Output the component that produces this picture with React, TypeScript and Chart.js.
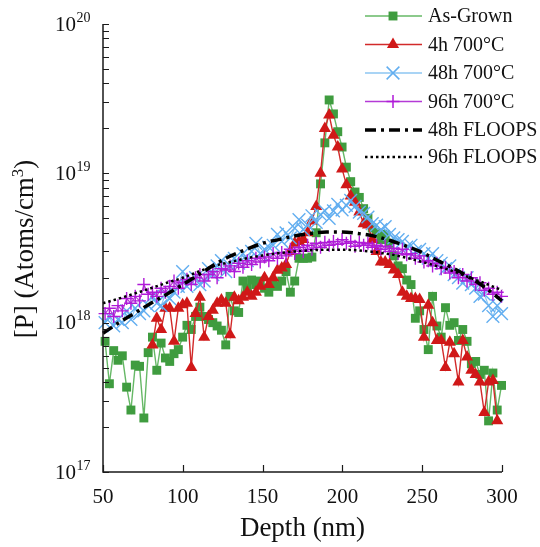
import React, { useEffect, useRef } from "react";
import { Chart, registerables } from "chart.js";

Chart.register(...registerables);

const FONT = "'Liberation Serif', 'Times New Roman', serif";

// Measured depths (nm)
const depthNm = [
  51.3, 54.0, 56.7, 59.4, 62.1, 64.8, 67.5, 70.2, 72.9, 75.6, 78.3, 81.0, 83.7, 86.4, 89.1, 91.8,
  94.5, 97.2, 99.9, 102.6, 105.3, 108.0, 110.7, 113.4, 116.1, 118.8, 121.5, 124.2, 126.9, 129.6,
  132.3, 135.0, 137.7, 140.4, 143.1, 145.8, 148.5, 151.2, 153.9, 156.6, 159.3, 162.0, 164.7, 167.4,
  170.1, 172.8, 175.5, 178.2, 180.9, 183.6, 186.3, 189.0, 191.7, 194.4, 197.1, 199.8, 202.5, 205.2,
  207.9, 210.6, 213.3, 216.0, 218.7, 221.4, 224.1, 226.8, 229.5, 232.2, 234.9, 237.6, 240.3, 243.0,
  245.7, 248.4, 251.1, 253.8, 256.5, 259.2, 261.9, 264.6, 267.3, 270.0, 272.7, 275.4, 278.1, 280.8,
  283.5, 286.2, 288.9, 291.6, 294.3, 297.0, 299.7,
];

const asGrown = [
  7.5e17, 3.9e17, 6.5e17, 5.6e17, 6.0e17, 3.7e17, 2.6e17, 5.2e17, 5.1e17, 2.3e17, 6.3e17, 8.0e17,
  4.8e17, 7.3e17, 5.8e17, 5.5e17, 6.2e17, 6.6e17, 8.0e17, 9.6e17, 9.0e17, 1.1e18, 1.27e18, 1.1e18,
  1.05e18, 1.0e18, 9.5e17, 8.9e17, 7.1e17, 1.5e18, 1.2e18, 1.17e18, 1.9e18, 1.7e18, 1.93e18, 1.8e18,
  1.9e18, 1.7e18, 1.6e18, 1.8e18, 1.75e18, 1.9e18, 2.2e18, 1.6e18, 1.9e18, 2.7e18, 2.7e18, 2.7e18,
  2.75e18, 4.0e18, 8.5e18, 1.6e19, 3.1e19, 2.5e19, 1.9e19, 1.5e19, 1.1e19, 8.8e18, 7.5e18, 6.9e18,
  5.8e18, 5.0e18, 4.3e18, 4.0e18, 3.6e18, 3.9e18, 3.4e18, 2.8e18, 2.4e18, 2.3e18, 1.93e18, 1.8e18,
  1.07e18, 1.2e18, 9.0e17, 6.6e17, 1.5e18, 9.5e17, 8.0e17, 1.26e18, 9.6e17, 1.0e18, 7.6e17, 9.0e17,
  7.5e17, 5.3e17, 5.5e17, 4.5e17, 4.8e17, 2.2e17, 4.6e17, 2.6e17, 3.8e17,
];

const anneal4h = [
  null, null, null, null, null, null, null, null, null, null, null, 7.1e17,
  1.07e18, 9.0e17, 1.25e18, 1.25e18, 7.5e17, 1.25e18, 1.32e18, 1.35e18, 5.0e17, 1.15e18, 1.48e18, 8.0e17,
  1.1e18, 1.21e18, 1.35e18, 1.42e18, 1.35e18, 8.3e17, 1.48e18, 1.4e18, 1.48e18, 1.6e18, 1.5e18, 1.6e18,
  1.75e18, 2.0e18, 1.8e18, 2.0e18, 2.24e18, 2.32e18, 2.45e18, 3.0e18, 3.4e18, 3.5e18, 3.6e18, 4.0e18,
  4.8e18, 6.0e18, 1.0e19, 2.0e19, 2.46e19, 1.8e19, 1.5e19, 1.07e19, 8.4e18, 7.05e18, 6.4e18, 5.5e18,
  4.6e18, 4.5e18, 3.6e18, 3.0e18, 2.55e18, 2.55e18, 2.45e18, 2.25e18, 2.1e18, 1.6e18, 1.5e18, 1.45e18,
  1.45e18, 1.43e18, 8.0e17, 1.31e18, 1.0e18, 7.6e17, 7.6e17, 5.0e17, 7.4e17, 6.2e17, 4.0e17, 7.6e17,
  5.9e17, 4.8e17, 4.5e17, 4.0e17, 2.5e17, 4.0e17, 4.1e17, 2.2e17, null,
];

const anneal48h = [
  1.0e18, 1.1e18, 9.5e17, 1.05e18, 1.0e18, 1.2e18, 1.05e18, 1.25e18, 1.15e18, 1.2e18, 1.3e18, 1.5e18,
  1.35e18, 1.3e18, 1.55e18, 1.45e18, 1.6e18, 1.75e18, 2.2e18, 1.75e18, 1.9e18, 2.0e18, 1.8e18, 1.9e18,
  2.3e18, 2.1e18, 2.4e18, 2.6e18, 2.2e18, 2.4e18, 2.7e18, 2.5e18, 2.9e18, 2.6e18, 3.0e18, 3.4e18,
  2.9e18, 3.1e18, 3.2e18, 3.3e18, 3.9e18, 3.5e18, 4.0e18, 3.7e18, 4.3e18, 4.9e18, 4.2e18, 4.5e18,
  5.2e18, 4.7e18, 5.3e18, 5.6e18, 5.0e18, 5.6e18, 6.2e18, 5.7e18, 6.1e18, 6.6e18, 6.0e18, 5.5e18,
  5.4e18, 5.1e18, 4.6e18, 4.5e18, 4.2e18, 4.4e18, 3.9e18, 3.7e18, 3.6e18, 3.5e18, 3.2e18, 3.3e18,
  3.0e18, 3.1e18, 2.9e18, 2.7e18, 2.9e18, 2.6e18, 2.5e18, 2.3e18, 2.4e18, 2.1e18, 2.0e18, 1.84e18,
  2.0e18, 1.8e18, 1.7e18, 1.5e18, 1.55e18, 1.3e18, 1.1e18, 1.3e18, 1.15e18,
];

const anneal96h = [
  1.15e18, 1.25e18, 1.1e18, 1.3e18, 1.2e18, 1.45e18, 1.35e18, 1.5e18, 1.4e18, 1.8e18, 1.55e18, 1.6e18,
  1.5e18, 1.7e18, 1.6e18, 1.75e18, 1.9e18, 1.7e18, 1.85e18, 1.95e18, 1.8e18, 2.0e18, 2.1e18, 1.9e18,
  2.1e18, 2.2e18, 2.0e18, 2.3e18, 2.25e18, 2.4e18, 2.2e18, 2.5e18, 2.35e18, 2.6e18, 2.45e18, 2.7e18,
  2.55e18, 2.75e18, 2.6e18, 2.9e18, 2.7e18, 2.95e18, 2.8e18, 3.1e18, 2.9e18, 3.2e18, 3.0e18, 3.3e18,
  3.1e18, 3.4e18, 3.2e18, 3.45e18, 3.3e18, 3.5e18, 3.35e18, 3.6e18, 3.4e18, 3.5e18, 3.25e18, 3.45e18,
  3.3e18, 3.4e18, 3.2e18, 3.3e18, 3.1e18, 3.25e18, 3.0e18, 3.15e18, 2.9e18, 3.1e18, 2.85e18, 2.9e18,
  2.7e18, 2.8e18, 2.55e18, 2.6e18, 2.4e18, 2.5e18, 2.3e18, 2.35e18, 2.15e18, 2.2e18, 2.0e18, 2.1e18,
  1.9e18, 2.0e18, 1.8e18, 1.85e18, 1.65e18, 1.7e18, 1.55e18, 1.6e18, 1.5e18,
];

// Simulation depths (nm)
const modelDepthNm = [
  50, 60, 70, 80, 90, 100, 110, 120, 130, 140, 150, 160, 170, 180, 190, 200, 210, 220, 230, 240, 250,
  260, 270, 280, 290, 300,
];

const floops48h = [
  8.5e17, 1.0e18, 1.16e18, 1.35e18, 1.55e18, 1.8e18, 2.1e18, 2.45e18, 2.8e18, 3.1e18, 3.4e18, 3.6e18,
  3.8e18, 3.95e18, 4.05e18, 4.05e18, 3.95e18, 3.8e18, 3.55e18, 3.25e18, 2.95e18, 2.6e18, 2.3e18, 2.0e18,
  1.7e18, 1.4e18,
];

const floops96h = [
  1.35e18, 1.45e18, 1.57e18, 1.7e18, 1.85e18, 2.0e18, 2.2e18, 2.4e18, 2.55e18, 2.7e18, 2.82e18, 2.92e18,
  3.0e18, 3.05e18, 3.08e18, 3.08e18, 3.05e18, 2.97e18, 2.87e18, 2.72e18, 2.55e18, 2.38e18, 2.2e18, 2.0e18,
  1.82e18, 1.65e18,
];

const xTickValues = [50, 100, 150, 200, 250, 300];
const yDecadeExponents = [17, 18, 19, 20];

const seriesLabels = ["As-Grown", "4h 700°C", "48h 700°C", "96h 700°C", "48h FLOOPS", "96h FLOOPS"];

const GREEN_LINE = "#66b866";
const GREEN_MARK = "#3f9c3f";
const RED_LINE = "#d22a2a";
const RED_MARK = "#d01818";
const BLUE_LINE = "#8cc6f2";
const BLUE_MARK = "#62aef0";
const MAG_LINE = "#b43ad6";
const MAG_MARK = "#b01ad8";

const DASH_48 = [11, 5, 3, 5];
const DASH_96 = [2.5, 3];

const R_RECT = 6.3;
const R_TRI = 7;
const R_X = 9;
const R_PLUS = 6.5;

function toPoints(xs: number[], ys: (number | null)[]) {
  return xs.map((x, i) => ({ x, y: ys[i] }));
}

function drawMarker(ctx: CanvasRenderingContext2D, style: string, cx: number, cy: number, r: number, fill: string, stroke: string, bw: number) {
  ctx.save();
  ctx.beginPath();
  ctx.setLineDash([]);
  ctx.fillStyle = fill;
  ctx.strokeStyle = stroke;
  ctx.lineWidth = bw;
  if (style === "rect") {
    const s = Math.SQRT1_2 * r;
    ctx.rect(cx - s, cy - s, 2 * s, 2 * s);
    ctx.fill();
  } else if (style === "triangle") {
    let rad = 0;
    ctx.moveTo(cx + Math.sin(rad) * r, cy - Math.cos(rad) * r);
    rad += (2 * Math.PI) / 3;
    ctx.lineTo(cx + Math.sin(rad) * r, cy - Math.cos(rad) * r);
    rad += (2 * Math.PI) / 3;
    ctx.lineTo(cx + Math.sin(rad) * r, cy - Math.cos(rad) * r);
    ctx.closePath();
    ctx.fill();
  } else if (style === "crossRot") {
    const o = Math.SQRT1_2 * r;
    ctx.moveTo(cx - o, cy - o);
    ctx.lineTo(cx + o, cy + o);
    ctx.moveTo(cx - o, cy + o);
    ctx.lineTo(cx + o, cy - o);
    ctx.stroke();
  } else if (style === "cross") {
    ctx.moveTo(cx, cy - r);
    ctx.lineTo(cx, cy + r);
    ctx.moveTo(cx - r, cy);
    ctx.lineTo(cx + r, cy);
    ctx.stroke();
  }
  ctx.restore();
}

const axesPlugin = {
  id: "customAxes",
  afterDraw(chart: any) {
    const { ctx, chartArea: ca, scales } = chart;
    const xs = scales.x;
    const ys = scales.y;
    ctx.save();
    ctx.setLineDash([]);
    ctx.strokeStyle = "#1a1a1a";
    ctx.lineWidth = 1.5;
    ctx.beginPath();
    ctx.moveTo(ca.left, ca.top);
    ctx.lineTo(ca.left, ca.bottom);
    ctx.lineTo(ca.right, ca.bottom);
    ctx.stroke();

    // y ticks (inward), major + minor
    ctx.lineWidth = 1.2;
    ctx.beginPath();
    for (const e of yDecadeExponents) {
      for (let m = 1; m <= 9; m++) {
        if (e === 20 && m > 1) break;
        const py = Math.round(ys.getPixelForValue(m * Math.pow(10, e))) + 0.5;
        ctx.moveTo(ca.left, py);
        ctx.lineTo(ca.left + 6, py);
      }
    }
    // x ticks (inward)
    for (const t of xTickValues) {
      const px = Math.round(xs.getPixelForValue(t)) + 0.5;
      ctx.moveTo(px, ca.bottom);
      ctx.lineTo(px, ca.bottom - 7);
    }
    ctx.stroke();

    ctx.fillStyle = "#111";
    // y labels 10^n
    for (const e of yDecadeExponents) {
      const py = ys.getPixelForValue(Math.pow(10, e));
      ctx.font = `21px ${FONT}`;
      ctx.textAlign = "left";
      ctx.textBaseline = "middle";
      ctx.fillText("10", 55, py + 1);
      const w = ctx.measureText("10").width;
      ctx.font = `14px ${FONT}`;
      ctx.fillText(String(e), 55 + w + 0.5, py - 6);
    }
    // x labels
    ctx.font = `21px ${FONT}`;
    ctx.textAlign = "center";
    ctx.textBaseline = "middle";
    for (const t of xTickValues) {
      ctx.fillText(String(t), xs.getPixelForValue(t), 497);
    }
    // x title
    ctx.font = `27px ${FONT}`;
    ctx.fillText("Depth (nm)", (ca.left + ca.right) / 2, 529);

    // y title
    ctx.save();
    ctx.translate(26, 249);
    ctx.rotate(-Math.PI / 2);
    ctx.textAlign = "left";
    ctx.textBaseline = "middle";
    const a = "[P] (Atoms/cm";
    const b = ")";
    ctx.font = `27px ${FONT}`;
    const wa = ctx.measureText(a).width;
    const wb = ctx.measureText(b).width;
    ctx.font = `17px ${FONT}`;
    const ws = ctx.measureText("3").width;
    const start = -(wa + ws + wb) / 2;
    ctx.font = `27px ${FONT}`;
    ctx.fillText(a, start, 0);
    ctx.fillText(b, start + wa + ws, 0);
    ctx.font = `17px ${FONT}`;
    ctx.fillText("3", start + wa, -7);
    ctx.restore();

    // legend
    const rows = [16, 44.5, 73, 101.5, 130, 157];
    const lx0 = 365;
    const lx1 = 422;
    const mx = 393;
    const tx = 428;
    const specs = [
      { line: GREEN_LINE, lw: 1.5, dash: [] as number[], marker: "rect", r: R_RECT, fill: GREEN_MARK, stroke: GREEN_MARK, bw: 1 },
      { line: RED_LINE, lw: 1.5, dash: [] as number[], marker: "triangle", r: R_TRI, fill: RED_MARK, stroke: RED_MARK, bw: 1 },
      { line: BLUE_LINE, lw: 1.5, dash: [] as number[], marker: "crossRot", r: R_X, fill: BLUE_MARK, stroke: BLUE_MARK, bw: 1.5 },
      { line: MAG_LINE, lw: 1.5, dash: [] as number[], marker: "cross", r: R_PLUS, fill: MAG_MARK, stroke: MAG_MARK, bw: 1.5 },
      { line: "#000", lw: 3.5, dash: DASH_48, marker: "", r: 0, fill: "", stroke: "", bw: 0 },
      { line: "#000", lw: 2.5, dash: DASH_96, marker: "", r: 0, fill: "", stroke: "", bw: 0 },
    ];
    specs.forEach((s, i) => {
      const yy = rows[i];
      ctx.save();
      ctx.strokeStyle = s.line;
      ctx.lineWidth = s.lw;
      ctx.setLineDash(s.dash);
      ctx.beginPath();
      ctx.moveTo(lx0, yy);
      ctx.lineTo(lx1, yy);
      ctx.stroke();
      ctx.restore();
      if (s.marker) drawMarker(ctx, s.marker, mx, yy, s.r, s.fill, s.stroke, s.bw);
      ctx.fillStyle = "#111";
      ctx.font = `20px ${FONT}`;
      ctx.textAlign = "left";
      ctx.textBaseline = "middle";
      ctx.fillText(seriesLabels[i], tx, yy + 1);
    });
    ctx.restore();
  },
};

export default function App() {
  const canvasRef = useRef<HTMLCanvasElement | null>(null);

  useEffect(() => {
    const canvas = canvasRef.current;
    if (!canvas) return;
    const chart = new Chart(canvas, {
      type: "line",
      data: {
        datasets: [
          {
            label: seriesLabels[0],
            data: toPoints(depthNm, asGrown),
            borderColor: GREEN_LINE,
            borderWidth: 1.4,
            pointStyle: "rect",
            pointRadius: R_RECT,
            pointBackgroundColor: GREEN_MARK,
            pointBorderColor: GREEN_MARK,
            pointBorderWidth: 0,
            order: 5,
          },
          {
            label: seriesLabels[1],
            data: toPoints(depthNm, anneal4h),
            borderColor: RED_LINE,
            borderWidth: 1.4,
            pointStyle: "triangle",
            pointRadius: R_TRI,
            pointBackgroundColor: RED_MARK,
            pointBorderColor: RED_MARK,
            pointBorderWidth: 0,
            spanGaps: false,
            order: 4,
          },
          {
            label: seriesLabels[2],
            data: toPoints(depthNm, anneal48h),
            borderColor: BLUE_LINE,
            borderWidth: 1.2,
            pointStyle: "crossRot",
            pointRadius: R_X,
            pointBackgroundColor: BLUE_MARK,
            pointBorderColor: BLUE_MARK,
            pointBorderWidth: 1.4,
            order: 3,
          },
          {
            label: seriesLabels[3],
            data: toPoints(depthNm, anneal96h),
            borderColor: MAG_LINE,
            borderWidth: 1.2,
            pointStyle: "cross",
            pointRadius: R_PLUS,
            pointBackgroundColor: MAG_MARK,
            pointBorderColor: MAG_MARK,
            pointBorderWidth: 1.4,
            order: 2,
          },
          {
            label: seriesLabels[4],
            data: toPoints(modelDepthNm, floops48h),
            borderColor: "#000",
            borderWidth: 3.5,
            borderDash: DASH_48,
            pointRadius: 0,
            cubicInterpolationMode: "monotone",
            order: 1,
          },
          {
            label: seriesLabels[5],
            data: toPoints(modelDepthNm, floops96h),
            borderColor: "#000",
            borderWidth: 2.5,
            borderDash: DASH_96,
            pointRadius: 0,
            cubicInterpolationMode: "monotone",
            order: 0,
          },
        ],
      },
      options: {
        animation: false,
        responsive: false,
        devicePixelRatio: 1,
        events: [],
        clip: false as any,
        layout: { padding: { left: 103, top: 24, right: 38, bottom: 75 } },
        plugins: { legend: { display: false }, tooltip: { enabled: false } },
        scales: {
          x: { type: "linear", min: 50, max: 300, display: false },
          y: { type: "logarithmic", min: 1e17, max: 1e20, display: false },
        },
      },
      plugins: [axesPlugin],
    });
    return () => chart.destroy();
  }, []);

  return (
    <div style={{ position: "absolute", left: 0, top: 0, width: 540, height: 547, background: "#fff" }}>
      <canvas ref={canvasRef} width={540} height={547} style={{ width: 540, height: 547, display: "block" }} />
    </div>
  );
}
